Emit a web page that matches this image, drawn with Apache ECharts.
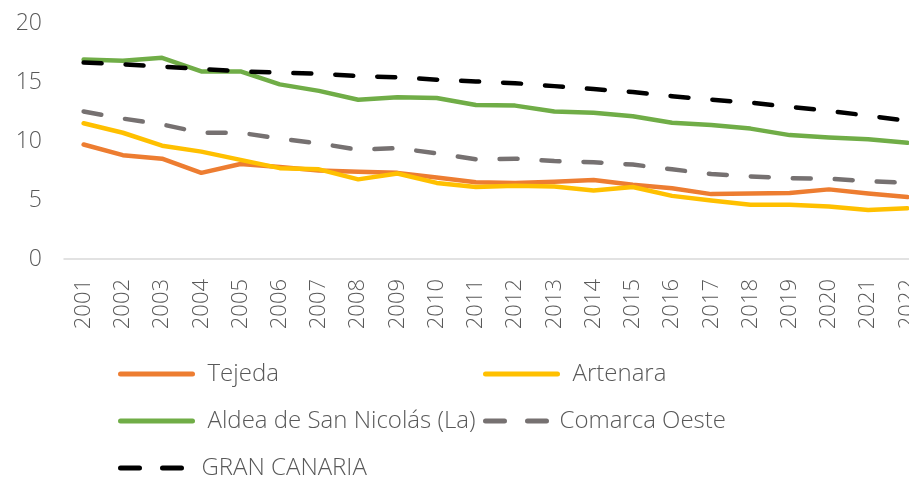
<!DOCTYPE html>
<html>
<head>
<meta charset="utf-8">
<script src="https://cdn.jsdelivr.net/npm/echarts@6/dist/echarts.min.js"></script>
<style>
  html, body { margin: 0; padding: 0; background: #fff; }
  #chart { width: 909px; height: 483px; }
</style>
</head>
<body>
<div id="chart"></div>
<script>
const years = ['2001', '2002', '2003', '2004', '2005', '2006', '2007', '2008', '2009', '2010', '2011',
  '2012', '2013', '2014', '2015', '2016', '2017', '2018', '2019', '2020', '2021', '2022']

const tejeda = [9.7, 8.8, 8.5, 7.3, 8.05, 7.8, 7.5, 7.4, 7.3, 6.9, 6.5, 6.45, 6.55, 6.7, 6.3, 6.0, 5.5, 5.55, 5.6, 5.9, 5.55, 5.25]
const artenara = [11.5, 10.7, 9.6, 9.1, 8.4, 7.7, 7.6, 6.75, 7.25, 6.45, 6.1, 6.2, 6.15, 5.8, 6.1, 5.35, 4.95, 4.6, 4.6, 4.45, 4.15, 4.3]
const aldea = [16.9, 16.8, 17.05, 15.9, 15.9, 14.8, 14.25, 13.5, 13.7, 13.65, 13.05, 13.0, 12.5, 12.4, 12.1, 11.55, 11.35, 11.05, 10.5, 10.3, 10.15, 9.85]
const comarcaOeste = [12.5, 11.9, 11.4, 10.7, 10.7, 10.2, 9.8, 9.25, 9.4, 8.95, 8.45, 8.5, 8.3, 8.2, 8.0, 7.6, 7.2, 7.0, 6.85, 6.8, 6.6, 6.45]
const granCanaria = [16.65, 16.5, 16.3, 16.1, 15.9, 15.8, 15.7, 15.5, 15.4, 15.2, 15.05, 14.9, 14.65, 14.4, 14.15, 13.8, 13.5, 13.25, 12.9, 12.55, 12.15, 11.7]

const yTicks = { min: 0, max: 20, interval: 5 }

const FONT = "'Open Sans', 'Noto Sans', sans-serif"
const TEXT_COLOR = '#595959'

const chart = echarts.init(document.getElementById('chart'))

const lineSeries = (name, data, color, dashed) => ({
  name,
  type: 'line',
  data,
  symbol: 'none',
  showSymbol: false,
  animation: false,
  lineStyle: {
    color,
    width: 4.5,
    cap: 'round',
    join: 'round',
    type: dashed ? [18, 24] : 'solid'
  },
  itemStyle: { color }
})

// one legend per item so each can sit where the original puts it
const legendAt = (name, left, top, width, dashed, gap) => ({
  data: [name],
  left,
  top,
  padding: 0,
  orient: 'horizontal',
  itemWidth: width,
  itemHeight: 10,
  selectedMode: false,
  itemStyle: { opacity: 0 },
  lineStyle: { width: 5, cap: 'round', type: dashed ? [19, 23] : 'solid' },
  textStyle: {
    fontFamily: FONT,
    fontWeight: 300,
    fontSize: 24,
    color: TEXT_COLOR,
    padding: [0, 0, 0, gap]
  }
})

chart.setOption({
  backgroundColor: '#fff',
  animation: false,
  grid: { left: 64, top: 23, width: 863, bottom: 224, containLabel: false, outerBoundsMode: 'none' },
  xAxis: {
    type: 'category',
    data: years,
    boundaryGap: true,
    axisTick: { show: false },
    axisLine: { lineStyle: { color: '#d9d9d9', width: 1.5 } },
    axisLabel: {
      interval: 0,
      rotate: 90,
      margin: 20,
      fontFamily: FONT,
      fontWeight: 300,
      fontSize: 22,
      color: TEXT_COLOR
    }
  },
  yAxis: {
    type: 'value',
    min: yTicks.min,
    max: yTicks.max,
    interval: yTicks.interval,
    axisLine: { show: false },
    axisTick: { show: false },
    splitLine: { show: false },
    axisLabel: {
      margin: 22,
      fontFamily: FONT,
      fontWeight: 300,
      fontSize: 23,
      color: TEXT_COLOR
    }
  },
  legend: [
    legendAt('Tejeda', 118, 362, 72, false, 10),
    legendAt('Artenara', 483, 362, 72, false, 10),
    legendAt('Aldea de San Nicolás (La)', 118, 409, 72, false, 10),
    legendAt('Comarca Oeste', 483, 409, 65, true, 4),
    legendAt('GRAN CANARIA', 118, 456, 65, true, 11)
  ],
  series: [
    lineSeries('Tejeda', tejeda, '#ED7D31', false),
    lineSeries('Artenara', artenara, '#FFC000', false),
    lineSeries('Aldea de San Nicolás (La)', aldea, '#70AD47', false),
    lineSeries('Comarca Oeste', comarcaOeste, '#767171', true),
    lineSeries('GRAN CANARIA', granCanaria, '#000000', true)
  ]
})
</script>
</body>
</html>
